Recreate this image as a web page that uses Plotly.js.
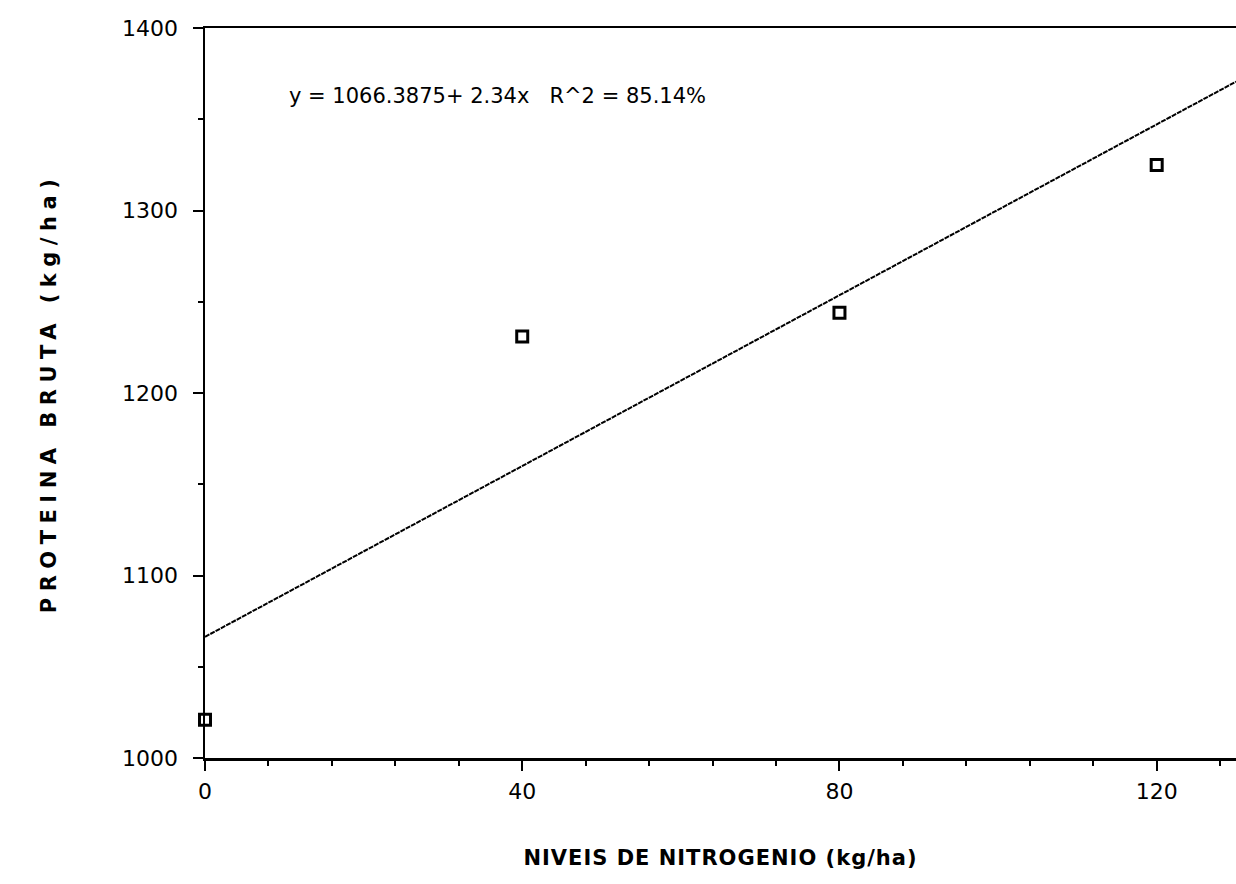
<!DOCTYPE html>
<html>
<head>
<meta charset="utf-8">
<script src="https://cdn.plot.ly/plotly-3.0.1.min.js"></script>
<style>
html, body { margin: 0; padding: 0; background: #fff; }
#chart { width: 1236px; height: 884px; }
.ytitle { letter-spacing: 6.5px; }
.xtitle { letter-spacing: 1px; }
</style>
</head>
<body>
<div id="chart"></div>
<script>
// Observed data: nitrogen level (kg/ha) vs crude protein (kg/ha)
const nitrogenLevels = [0, 40, 80, 120];
const crudeProtein = [1021, 1231, 1244, 1325];

// Regression from the chart's equation
const intercept = 1066.3875;
const slope = 2.34;
const rSquared = 85.14;
const lineX = [0, 130];
const lineY = lineX.map(x => intercept + slope * x);

const xTickVals = [0, 40, 80, 120];
const yTickVals = [1000, 1100, 1200, 1300, 1400];

const eqText = 'y = ' + intercept + '+ ' + slope + 'x   R^2 = ' + rSquared.toFixed(2) + '%';

const traces = [
  {
    x: lineX, y: lineY, type: 'scatter', mode: 'lines',
    line: {color: '#000', width: 2, dash: '5px,1px'},
    hoverinfo: 'skip', showlegend: false, cliponaxis: false
  },
  {
    x: nitrogenLevels, y: crudeProtein, type: 'scatter', mode: 'markers',
    marker: {symbol: 'square-open', size: 11, color: '#000', line: {width: 3, color: '#000'}},
    showlegend: false, cliponaxis: false
  }
];

const tickFont = {family: 'DejaVu Sans', size: 22, color: '#000'};
const titleFont = {family: 'DejaVu Sans', size: 21, color: '#000', weight: 'bold'};

const layout = {
  width: 1236, height: 884,
  paper_bgcolor: '#fff', plot_bgcolor: '#fff',
  margin: {l: 205, r: 0, t: 28, b: 126},
  showlegend: false,
  xaxis: {
    range: [0, 130], showgrid: false, zeroline: false,
    showline: true, linecolor: '#000', linewidth: 2.5, mirror: true,
    tickmode: 'array', tickvals: xTickVals, ticktext: xTickVals.map(String),
    ticks: 'outside', ticklen: 10, tickwidth: 2, tickcolor: '#000',
    minor: {dtick: 8, tick0: 0, ticks: 'outside', ticklen: 5, tickwidth: 2, tickcolor: '#000', showgrid: false},
    tickfont: tickFont, ticklabelstandoff: 2,
    title: {text: 'NIVEIS DE NITROGENIO (kg/ha)', font: titleFont, standoff: 48}
  },
  yaxis: {
    range: [1000, 1400], showgrid: false, zeroline: false,
    showline: true, linecolor: '#000', linewidth: 2.5,
    tickmode: 'array', tickvals: yTickVals, ticktext: yTickVals.map(String),
    ticks: 'outside', ticklen: 10, tickwidth: 2, tickcolor: '#000',
    minor: {dtick: 50, tick0: 1000, ticks: 'outside', ticklen: 5, tickwidth: 2, tickcolor: '#000', showgrid: false},
    tickfont: tickFont, ticklabelstandoff: 10,
    title: {text: 'PROTEINA BRUTA (kg/ha)', font: titleFont, standoff: 60}
  },
  annotations: [{
    x: 0.08, y: 0.907, xref: 'paper', yref: 'paper', xanchor: 'left', yanchor: 'middle',
    text: eqText, showarrow: false,
    font: {family: 'DejaVu Sans', size: 21, color: '#000'}
  }]
};

Plotly.newPlot('chart', traces, layout, {displayModeBar: false, staticPlot: true});
</script>
</body>
</html>
